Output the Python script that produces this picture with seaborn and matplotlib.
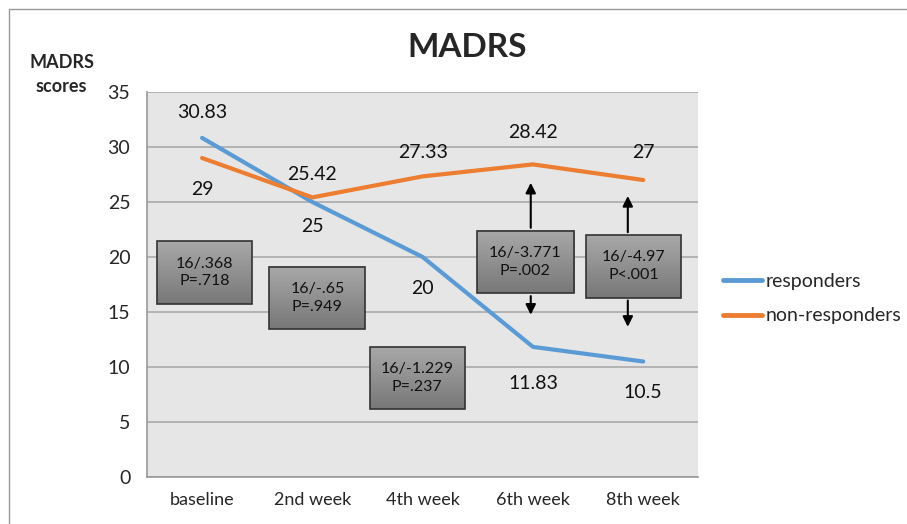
import numpy as np
import pandas as pd
import seaborn as sns
import matplotlib.pyplot as plt
from matplotlib.patches import Rectangle
from matplotlib.lines import Line2D

weeks = ["baseline", "2nd week", "4th week", "6th week", "8th week"]
responders = [30.83, 25, 20, 11.83, 10.5]
non_responders = [29, 25.42, 27.33, 28.42, 27]
resp_labels = ["30.83", "25", "20", "11.83", "10.5"]
nonresp_labels = ["29", "25.42", "27.33", "28.42", "27"]
test_text = ["16/.368\nP=.718", "16/-.65\nP=.949", "16/-1.229\nP=.237",
             "16/-3.771\nP=.002", "16/-4.97\nP<.001"]

df = pd.DataFrame({
    "week": weeks * 2,
    "score": responders + non_responders,
    "group": ["responders"] * 5 + ["non-responders"] * 5,
})
df["x"] = list(range(5)) * 2

sns.set_style("white")
plt.rcParams["font.family"] = ["Lato", "DejaVu Sans"]

fig = plt.figure(figsize=(9.07, 5.24), dpi=100)
ax = fig.add_axes([0.162, 0.0897, 0.608, 0.7347])
ax.set_facecolor("#e6e6e6")

colors = {"responders": "#5b9bd5", "non-responders": "#ed7d31"}
sns.lineplot(data=df, x="x", y="score", hue="group", palette=colors,
             linewidth=3, ax=ax, legend=False, zorder=3)

ax.set_xlim(-0.5, 4.5)
ax.set_ylim(0, 35)
ax.set_yticks(range(0, 36, 5))
ax.set_xticks(range(5))
ax.set_xticklabels(weeks, fontsize=13)
ax.set_xticks(np.arange(-0.5, 5, 1), minor=True)
ax.tick_params(axis="x", which="major", length=0, pad=11)
ax.tick_params(axis="x", which="minor", length=6, color="#999999", direction="out")
ax.tick_params(axis="y", length=7, color="#999999", direction="out", labelsize=14, pad=5)
ax.yaxis.grid(True, color="#aaaaaa", linewidth=1.2, zorder=0)
ax.set_axisbelow(True)
ax.set_xlabel("")
ax.set_ylabel("")
for s in ["top", "right"]:
    ax.spines[s].set_visible(False)
for s in ["left", "bottom"]:
    ax.spines[s].set_color("#999999")
    ax.spines[s].set_linewidth(1.2)

# data labels
resp_pos = [33.1, 22.8, 17.1, 8.5, 7.7]
non_pos = [26.1, 27.5, 29.5, 31.3, 29.5]
for i in range(5):
    ax.text(i, resp_pos[i], resp_labels[i], ha="center", va="center", fontsize=14, color="#111111")
    ax.text(i, non_pos[i], nonresp_labels[i], ha="center", va="center", fontsize=14, color="#111111")

# gradient boxes with test statistics
boxes = [(-0.41, 0.45, 15.73, 21.45), (0.61, 1.48, 13.45, 19.1), (1.52, 2.38, 6.2, 11.8),
         (2.49, 3.37, 16.7, 22.4), (3.48, 4.34, 16.3, 22.0)]
grad = np.linspace(0, 1, 64).reshape(-1, 1)
cmap = plt.cm.colors.LinearSegmentedColormap.from_list("g", ["#787878", "#a8a8a8"])
for (x0, x1, y0, y1), t in zip(boxes, test_text):
    ax.imshow(grad, extent=[x0, x1, y0, y1], cmap=cmap, origin="lower", aspect="auto", zorder=4)
    ax.add_patch(Rectangle((x0, y0), x1 - x0, y1 - y0, fill=False, edgecolor="#333333",
                           linewidth=1.2, zorder=5))
    ax.text((x0 + x1) / 2, (y0 + y1) / 2, t, ha="center", va="center", fontsize=11.5,
            color="#111111", linespacing=1.35, zorder=6)

# arrows
arrows = [(2.98, 22.4, 27.0), (2.98, 16.7, 14.5), (3.86, 22.0, 25.8), (3.86, 16.3, 13.4)]
for x, y0, y1 in arrows:
    ax.annotate("", xy=(x, y1), xytext=(x, y0),
                arrowprops=dict(arrowstyle="-|>,head_length=0.6,head_width=0.3",
                                color="black", lw=1.5), zorder=6)

ax.set_aspect("auto")
ax.set_xlim(-0.5, 4.5)
ax.set_ylim(0, 35)

fig.text(0.515, 0.91, "MADRS", ha="center", va="center", fontsize=24, fontweight="bold")
fig.text(0.068, 0.857, "MADRS\nscores", ha="center", va="center", fontsize=13,
         fontweight="bold", linespacing=1.5)

handles = [Line2D([], [], color=colors["responders"], lw=3.5, solid_capstyle="round"),
           Line2D([], [], color=colors["non-responders"], lw=3.5, solid_capstyle="round")]
fig.legend(handles, ["responders", "non-responders"], loc="center left",
           bbox_to_anchor=(0.797, 0.43), frameon=False, fontsize=14,
           borderpad=0, borderaxespad=0,
           handlelength=2.0, handletextpad=0.2, labelspacing=0.9)

# figure frame (top and left edges)
fig.add_artist(Line2D([0.01, 1.0], [0.983, 0.983], color="#999999", lw=1))
fig.add_artist(Line2D([0.01, 0.01], [0.0, 0.983], color="#999999", lw=1))

fig.savefig("out.png", dpi=100)
